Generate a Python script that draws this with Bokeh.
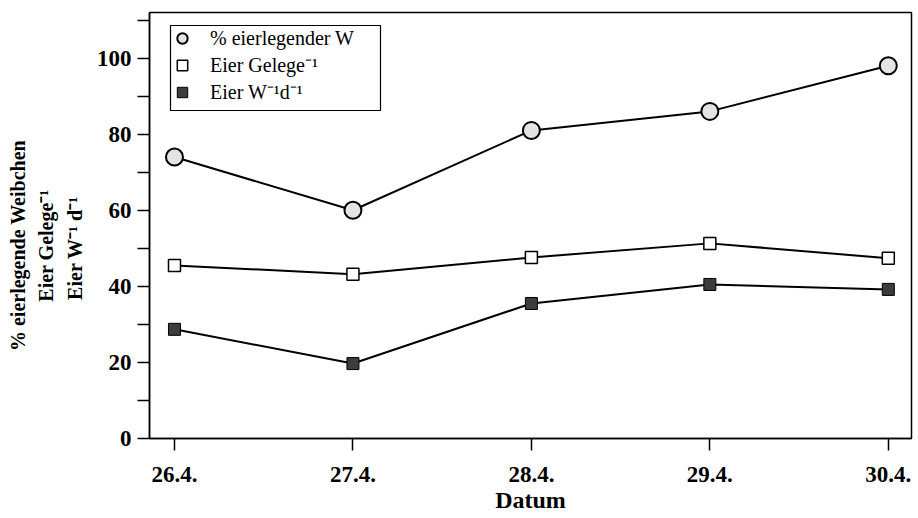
from bokeh.plotting import figure
from bokeh.models import FixedTicker, Range1d, Legend, LegendItem, BoxAnnotation
from bokeh.embed import file_html
from bokeh.resources import INLINE

# ---- data ----
dates = ["26.4.", "27.4.", "28.4.", "29.4.", "30.4."]
pct_eierlegend = [74, 60, 81, 86, 98]
eier_gelege = [45.5, 43.2, 47.6, 51.3, 47.4]
eier_w_d = [28.7, 19.7, 35.5, 40.5, 39.2]
y_ticks = [0, 20, 40, 60, 80, 100]
y_minor = [10, 30, 50, 70, 90, 110]
legend_labels = ["% eierlegender W", "Eier Gelege\u207b\u00b9", "Eier W\u207b\u00b9d\u207b\u00b9"]
y_label_lines = ["% eierlegende Weibchen", "Eier Gelege\u207b\u00b9", "Eier  W\u207b\u00b9 d\u207b\u00b9"]
x_title = "Datum"

FONT = "Liberation Serif"
xs = list(range(len(dates)))

p = figure(width=918, height=518, output_backend="svg", toolbar_location=None,
           x_range=Range1d(-0.14, 4.13), y_range=Range1d(0, 112),
           min_border_left=149, min_border_right=7, min_border_top=12,
           min_border_bottom=80)
p.xgrid.visible = False
p.ygrid.visible = False
p.outline_line_color = "black"
p.outline_line_width = 1.5
p.background_fill_color = "white"
p.border_fill_color = "white"

# lines
p.line(xs, pct_eierlegend, line_color="black", line_width=2)
p.line(xs, eier_gelege, line_color="black", line_width=2)
p.line(xs, eier_w_d, line_color="black", line_width=2)

r1 = p.scatter(xs, pct_eierlegend, marker="circle", size=17, fill_color="#e4e4e4",
               line_color="black", line_width=2)
r2 = p.scatter(xs, eier_gelege, marker="square", size=12, fill_color="white",
               line_color="black", line_width=1.5)
r3 = p.scatter(xs, eier_w_d, marker="square", size=12, fill_color="#3c3c3c",
               line_color="black", line_width=1)

# axes
xax = p.xaxis[0]
xax.ticker = FixedTicker(ticks=xs, minor_ticks=[])
xax.major_label_overrides = {i: d for i, d in enumerate(dates)}
xax.axis_label = x_title
yax = p.yaxis[0]
yax.ticker = FixedTicker(ticks=y_ticks, minor_ticks=y_minor)
pad = "\u00a0" * 8
yax.axis_label = "\n".join(line + pad for line in y_label_lines)

for ax in (xax, yax):
    ax.axis_line_color = "black"
    ax.axis_line_width = 1.5
    ax.major_tick_line_color = "black"
    ax.major_tick_line_width = 1.5
    ax.minor_tick_line_color = "black"
    ax.minor_tick_line_width = 1.5
    ax.major_tick_in = 0
    ax.minor_tick_in = 0
    ax.major_label_text_font = FONT
    ax.major_label_text_font_size = "23px"
    ax.major_label_text_font_style = "bold"
    ax.major_label_text_color = "black"
    ax.axis_label_text_font = FONT
    ax.axis_label_text_font_style = "bold"
    ax.axis_label_text_color = "black"
xax.axis_label_text_font_size = "24px"
yax.axis_label_text_font_size = "20px"
yax.axis_label_text_line_height = 1.3
xax.major_tick_out = 12
xax.minor_tick_out = 0
xax.major_label_standoff = 16
xax.axis_label_standoff = 2
yax.major_tick_out = 12
yax.minor_tick_out = 12
yax.major_label_standoff = 6
yax.axis_label_standoff = 8

# legend
legend = Legend(items=[LegendItem(label=legend_labels[0], renderers=[r1]),
                       LegendItem(label=legend_labels[1], renderers=[r2]),
                       LegendItem(label=legend_labels[2], renderers=[r3])],
                location=(17, 333), glyph_width=32, glyph_height=26,
                label_height=20, spacing=0, padding=0, margin=0,
                label_standoff=12, border_line_alpha=0,
                background_fill_alpha=0, label_text_font=FONT,
                label_text_font_size="20px", label_text_color="black")
p.add_layout(legend, "center")
p.add_layout(BoxAnnotation(left=21, right=231, top=413, bottom=328,
                           left_units="screen", right_units="screen",
                           top_units="screen", bottom_units="screen",
                           fill_alpha=0, line_color="black", line_alpha=1,
                           line_width=1.2))

open("out.html", "w").write(file_html(p, INLINE))
